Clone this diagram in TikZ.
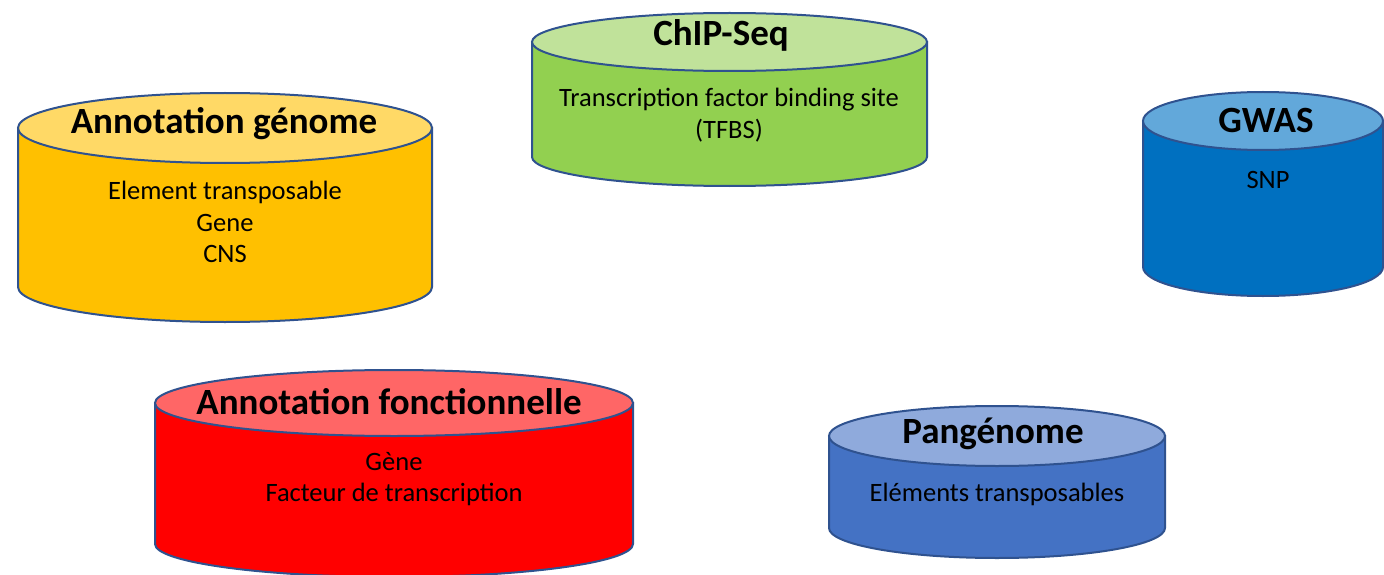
\documentclass[tikz,border=0pt]{standalone}
\usepackage{fontspec}
\setmainfont{Carlito}
\definecolor{edge}{HTML}{2F528F}
\definecolor{goldbody}{HTML}{FFC000}
\definecolor{goldtop}{HTML}{FFD966}
\definecolor{greenbody}{HTML}{92D050}
\definecolor{greentop}{HTML}{C0E29A}
\definecolor{bluebody}{HTML}{0070C0}
\definecolor{bluetop}{HTML}{62A8DA}
\definecolor{redbody}{HTML}{FF0000}
\definecolor{redtop}{HTML}{FF6666}
\definecolor{slatebody}{HTML}{4472C4}
\definecolor{slatetop}{HTML}{8FAADC}
% \dbcylinder{cx}{top y}{bottom y}{x radius}{y radius}{body colour}{top colour}
\newcommand\dbcylinder[7]{%
  \filldraw[cylline,fill=#6] (#1-#4,#2) -- (#1-#4,#3)
    arc[start angle=180,end angle=360,x radius=#4pt,y radius=#5pt]
    -- (#1+#4,#2) -- cycle;
  \filldraw[cylline,fill=#7] (#1,#2) ellipse[x radius=#4pt,y radius=#5pt];
}
\begin{document}
\begin{tikzpicture}[x=1pt,y=-1pt,
  cylline/.style={draw=edge,line width=2pt},
  title/.style={font=\fontsize{37}{40}\selectfont\bfseries,inner sep=0pt},
  body/.style={font=\fontsize{26.5}{31.5}\selectfont,align=center,inner sep=0pt}]
\useasboundingbox (0,0) rectangle (1384,575);
% Annotation génome
\dbcylinder{225}{128}{287}{207}{35}{goldbody}{goldtop}
\node[title] (annTitle) at (224,124) {Annotation génome};
\node[body] (annBody) at (225,222) {Element transposable\\Gene\\CNS};
% ChIP-Seq
\dbcylinder{729.5}{42}{157}{197.5}{29}{greenbody}{greentop}
\node[title] (chipTitle) at (721,35) {ChIP-Seq};
\node[body] (chipBody) at (729,115) {Transcription factor binding site\\(TFBS)};
% GWAS
\dbcylinder{1263}{121}{267}{120}{29}{bluebody}{bluetop}
\node[title] (gwasTitle) at (1266,120) {GWAS};
\node[body] (gwasBody) at (1268,180) {SNP};
% Annotation fonctionnelle
\dbcylinder{394}{403}{544}{239}{33}{redbody}{redtop}
\node[title] (fonTitle) at (389,402) {Annotation fonctionnelle};
\node[body] (fonBody) at (394,479) {Gène\\Facteur de transcription};
% Pangénome
\dbcylinder{997}{436}{528}{168}{30}{slatebody}{slatetop}
\node[title] (panTitle) at (993,434) {Pangénome};
\node[body] (panBody) at (997,494) {Eléments transposables};
\end{tikzpicture}
\end{document}
